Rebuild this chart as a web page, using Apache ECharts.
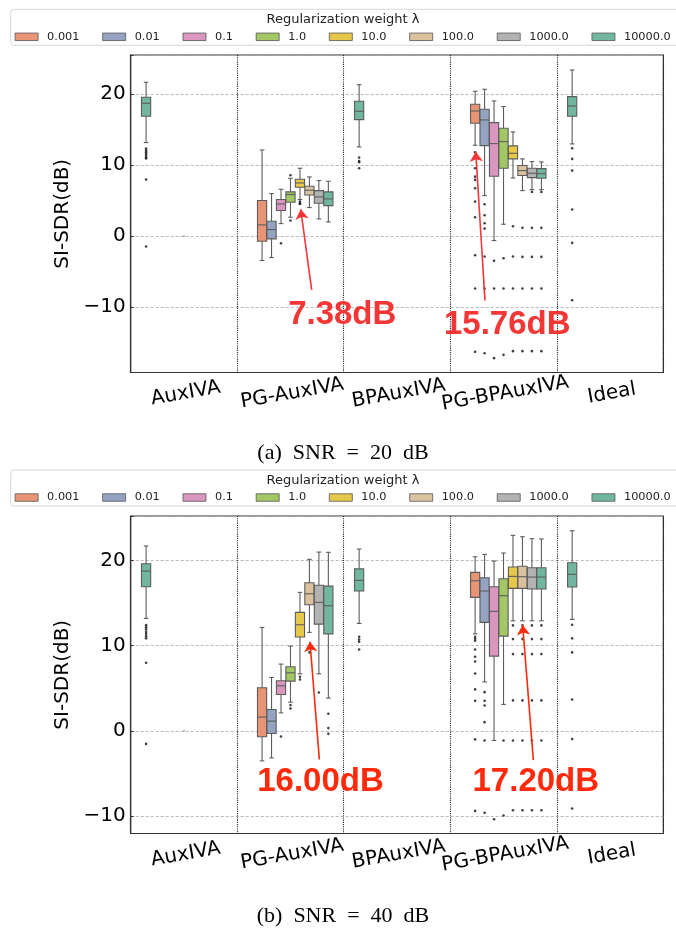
<!DOCTYPE html>
<html>
<head>
<meta charset="utf-8">
<script src="https://cdn.jsdelivr.net/npm/echarts@6/dist/echarts.min.js"></script>
<style>
  html, body { margin: 0; padding: 0; background: #fff; }
  #chart { width: 676px; height: 928px; }
</style>
</head>
<body>
<div id="chart"></div>
<script>
const methods = ['AuxIVA', 'PG-AuxIVA', 'BPAuxIVA', 'PG-BPAuxIVA', 'Ideal'];
const lambdas = ['0.001', '0.01', '0.1', '1.0', '10.0', '100.0', '1000.0', '10000.0'];
const yTicks = [-10, 0, 10, 20];

// box = [lower whisker, Q1, median, Q3, upper whisker]
// (a) SNR = 20 dB
const snr20AuxIVA = [13.15, 16.86, 18.69, 19.53, 21.65];
const snr20AuxIVAOut = [12.3, 12.05, 11.8, 11.55, 11.3, 11.05, 10.9, 7.93, -1.5];
const snr20BPAuxIVA = [12.54, 16.38, 17.56, 18.97, 21.3];
const snr20BPAuxIVAOut = [11.03, 10.56, 10.38, 9.53];
const snr20Ideal = [12.96, 16.86, 18.31, 19.62, 23.38];
const snr20IdealOut = [12.35, 10.85, 9.2, 3.71, -0.99, -9.06];
const snr20PGAuxIVA = [
  [-3.47, -0.75, 1.55, 4.98, 12.11],
  [-3.05, -0.42, 0.89, 2.07, 5.96],
  [1.73, 3.57, 4.5, 5.12, 6.57],
  [2.63, 4.74, 5.83, 6.2, 8.12],
  [5.12, 6.85, 7.46, 7.98, 9.53],
  [3.99, 5.77, 6.43, 7.0, 8.31],
  [2.39, 4.6, 5.49, 6.38, 7.8],
  [1.97, 4.27, 5.21, 6.2, 7.7]
];
const snr20PGAuxIVAOut = [[], [], [-1.03], [8.55, 2.16], [4.83, 4.6, 4.5], [], [], []];
const snr20PGBPAuxIVA = [
  [12.77, 15.87, 17.6, 18.54, 20.38],
  [5.68, 12.72, 16.34, 17.84, 20.66],
  [-0.66, 8.4, 13.0, 15.96, 19.01],
  [1.64, 9.53, 13.29, 15.17, 18.22],
  [8.17, 10.85, 11.64, 12.68, 14.65],
  [6.38, 8.5, 9.2, 9.91, 10.85],
  [6.52, 8.21, 8.83, 9.53, 10.47],
  [6.52, 8.12, 8.77, 9.48, 10.42]
];
const snr20PGBPAuxIVAOut = [
  [11.79, 9.53, 8.35, 7.89, 6.71, 4.83, 2.63, -2.72, -7.42, -16.34],
  [4.46, 2.91, 1.78, 1.03, -2.91, -7.42, -16.53],
  [-3.52, -7.42, -17.23],
  [-3.15, -7.42, -16.76],
  [1.36, -2.91, -7.42, -16.24],
  [1.13, -2.96, -7.42, -16.24],
  [6.2, 1.13, -2.96, -7.42, -16.24],
  [6.2, 1.13, -2.96, -7.42, -16.24]
];

// (b) SNR = 40 dB
const snr40AuxIVA = [13.19, 16.9, 18.74, 19.6, 21.68];
const snr40AuxIVAOut = [12.4, 12.15, 11.9, 11.6, 11.35, 11.1, 10.85, 7.98, -1.53];
const snr40BPAuxIVA = [12.6, 16.4, 17.65, 19.0, 21.33];
const snr40BPAuxIVAOut = [11.03, 10.7, 10.45, 9.55];
const snr40Ideal = [13.07, 16.87, 18.36, 19.72, 23.47];
const snr40IdealOut = [12.44, 10.85, 9.2, 3.68, -0.97, -9.11];
const snr40PGAuxIVA = [
  [-3.52, -0.7, 1.61, 5.05, 12.13],
  [-3.17, -0.31, 1.14, 2.51, 6.27],
  [2.11, 4.27, 5.28, 5.87, 7.83],
  [3.37, 5.83, 6.81, 7.51, 9.94],
  [6.69, 11.0, 12.44, 13.9, 16.24],
  [11.55, 14.79, 16.08, 17.37, 20.12],
  [6.69, 12.52, 15.07, 17.07, 20.97],
  [3.84, 11.38, 14.67, 16.98, 20.94]
];
const snr40PGAuxIVAOut = [[], [], [-0.66], [3.02, 2.63], [6.34, 6.03], [9.98, 9.2], [4.5], [2.0, 0.32, -0.35]];
const snr40PGBPAuxIVA = [
  [11.38, 15.66, 17.61, 18.59, 20.42],
  [5.75, 12.72, 16.4, 17.96, 20.7],
  [-1.13, 8.77, 14.01, 16.9, 19.92],
  [3.1, 11.11, 15.85, 17.84, 20.86],
  [12.91, 16.71, 18.12, 19.21, 22.93],
  [12.91, 16.71, 18.08, 19.3, 22.77],
  [12.91, 16.63, 18.04, 19.13, 22.54],
  [12.91, 16.63, 18.04, 19.13, 22.5]
];
const snr40PGBPAuxIVAOut = [
  [11.03, 10.8, 10.56, 9.55, 8.69, 8.14, 6.73, 4.86, 3.52, -1.0, -9.39],
  [4.54, 3.52, 2.98, 1.02, -1.13, -9.62],
  [-10.36],
  [-1.13, -9.93],
  [12.37, 10.76, 9.0, 3.57, -1.13, -9.31],
  [12.37, 10.76, 9.0, 3.57, -1.13, -9.31],
  [12.37, 10.76, 9.0, 3.57, -1.13, -9.31],
  [12.37, 10.76, 9.0, 3.57, -1.13, -9.31]
];

// seaborn Set2, desaturated (0.75); hue 0 = no lambda, hues 1..8 = lambdas
const hueColors = ['#71b6a1', '#e99575', '#95a3c3', '#db96c0', '#a2c764', '#e5c849', '#dbc29e', '#b3b3b3', '#71b6a1'];
const hueStep = 0.8 / 9;
const boxW = hueStep * 0.97;
const edge = '#5c5c5c';
const font = 'DejaVu Sans';

function hx(g, h) { return g + (h - 4) * hueStep; }

function renderBox(params, api) {
  const x = api.value(0);
  const lo = api.coord([x, api.value(1)]);
  const q1 = api.coord([x, api.value(2)]);
  const md = api.coord([x, api.value(3)]);
  const q3 = api.coord([x, api.value(4)]);
  const hi = api.coord([x, api.value(5)]);
  const w = api.size([boxW, 0])[0];
  const cx = lo[0];
  const ln = { stroke: edge, lineWidth: 1.1 };
  return {
    type: 'group',
    children: [
      { type: 'line', shape: { x1: cx, y1: lo[1], x2: cx, y2: q1[1] }, style: ln },
      { type: 'line', shape: { x1: cx, y1: q3[1], x2: cx, y2: hi[1] }, style: ln },
      { type: 'line', shape: { x1: cx - w / 4, y1: lo[1], x2: cx + w / 4, y2: lo[1] }, style: ln },
      { type: 'line', shape: { x1: cx - w / 4, y1: hi[1], x2: cx + w / 4, y2: hi[1] }, style: ln },
      { type: 'rect', shape: { x: cx - w / 2, y: q3[1], width: w, height: q1[1] - q3[1] },
        style: { fill: api.visual('color'), stroke: edge, lineWidth: 1.1 } },
      { type: 'line', shape: { x1: cx - w / 2, y1: md[1], x2: cx + w / 2, y2: md[1] }, style: ln }
    ]
  };
}

const series = [];
function addPanel(p, base, baseOut, pg, pgOut, pgbp, pgbpOut, notes, red) {
  const baseGroups = [0, 2, 4];
  for (let h = 0; h < 9; h++) {
    const data = [];
    if (h === 0) {
      base.forEach((b, i) => data.push([hx(baseGroups[i], 0)].concat(b)));
    } else {
      data.push([hx(1, h)].concat(pg[h - 1]));
      data.push([hx(3, h)].concat(pgbp[h - 1]));
    }
    series.push({
      type: 'custom', name: h === 0 ? 'none' : lambdas[h - 1],
      xAxisIndex: p * 2 + 1, yAxisIndex: p,
      itemStyle: { color: hueColors[h] },
      encode: { x: 0, y: [1, 2, 3, 4, 5] },
      renderItem: renderBox, silent: true, data: data
    });
  }
  const fl = [];
  baseOut.forEach((arr, i) => arr.forEach(v => fl.push([hx(baseGroups[i], 0), v])));
  pgOut.forEach((arr, k) => arr.forEach(v => fl.push([hx(1, k + 1), v])));
  pgbpOut.forEach((arr, k) => arr.forEach(v => fl.push([hx(3, k + 1), v])));
  series.push({
    type: 'scatter', xAxisIndex: p * 2 + 1, yAxisIndex: p, silent: true,
    symbolSize: 2.6, itemStyle: { color: '#111' }, data: fl
  });
  // tiny mark at 0 in the AuxIVA slot
  series.push({
    type: 'scatter', xAxisIndex: p * 2 + 1, yAxisIndex: p, silent: true,
    symbolSize: 2, itemStyle: { color: '#999' }, data: [[0, 0]]
  });
  series.push({
    type: 'scatter', xAxisIndex: p * 2 + 1, yAxisIndex: p, silent: true,
    symbolSize: 0, itemStyle: { color: red, opacity: 1 },
    label: {
      show: true, position: 'inside', formatter: q => q.value[2], opacity: 1,
      color: red, textBorderWidth: 0, fontSize: 33, fontWeight: 'bold', fontFamily: 'Liberation Sans'
    },
    data: notes.map(n => [n.tx, n.ty, n.text]),
    markLine: {
      silent: true, symbol: ['none', 'arrow'], symbolSize: 10,
      lineStyle: { color: red, width: 1.6, type: 'solid' }, label: { show: false },
      data: notes.map(n => [{ coord: n.from }, { coord: n.to }])
    }
  });
}

addPanel(0,
  [snr20AuxIVA, snr20BPAuxIVA, snr20Ideal], [snr20AuxIVAOut, snr20BPAuxIVAOut, snr20IdealOut],
  snr20PGAuxIVA, snr20PGAuxIVAOut, snr20PGBPAuxIVA, snr20PGBPAuxIVAOut,
  [{ text: '7.38dB', tx: 1.486, ty: -11.13, from: [1.199, -7.6], to: [1.096, 3.76] },
   { text: '15.76dB', tx: 3.035, ty: -12.54, from: [2.826, -9.11], to: [2.739, 11.87] }],
  '#f43636');
addPanel(1,
  [snr40AuxIVA, snr40BPAuxIVA, snr40Ideal], [snr40AuxIVAOut, snr40BPAuxIVAOut, snr40IdealOut],
  snr40PGAuxIVA, snr40PGAuxIVAOut, snr40PGBPAuxIVA, snr40PGBPAuxIVAOut,
  [{ text: '16.00dB', tx: 1.282, ty: -5.96, from: [1.271, -3.36], to: [1.183, 10.45] },
   { text: '17.20dB', tx: 3.303, ty: -5.96, from: [3.28, -3.44], to: [3.18, 12.41] }],
  '#ff2a0c');

const gridTops = [55, 516];
const yRanges = [[-19.25, 25.49], [-12.04, 25.2]];
const legendTops = [9.3, 470];
const captions = ['(a)  SNR  =  20  dB', '(b)  SNR  =  40  dB'];
const captionTops = [442, 905];

const grids = [], xAxes = [], yAxes = [], legends = [], titles = [];
for (let p = 0; p < 2; p++) {
  grids.push({ left: 130.7, width: 532.6, top: gridTops[p], height: 317.5,
    show: true, borderColor: '#333', borderWidth: 1.2 });
  xAxes.push({
    type: 'category', gridIndex: p, data: methods, boundaryGap: true,
    axisLine: { onZero: false, lineStyle: { color: '#333', width: 1.2 } },
    axisTick: { alignWithLabel: true, length: 4, lineStyle: { color: '#333' } },
    axisLabel: { rotate: 10, align: 'center', verticalAlign: 'top', margin: 11,
      fontSize: 20, fontFamily: font, color: '#000', interval: 0 },
    splitLine: { show: true, interval: 0, lineStyle: { type: 'dotted', color: '#222', width: 1.1 } }
  });
  xAxes.push({ type: 'value', gridIndex: p, min: -0.5, max: 4.5, show: false,
    axisLine: { onZero: false } });
  yAxes.push({
    type: 'value', gridIndex: p, min: yRanges[p][0], max: yRanges[p][1],
    name: 'SI-SDR(dB)', nameLocation: 'middle', nameGap: 54,
    nameTextStyle: { fontSize: 20, fontFamily: font, color: '#000' },
    axisLine: { show: true, onZero: false, lineStyle: { color: '#333', width: 1.2 } },
    axisTick: { show: true, inside: true, length: 3, lineStyle: { color: '#333' } },
    axisLabel: { margin: 5, fontSize: 20, fontFamily: font, color: '#000',
      formatter: v => yTicks.includes(v) ? String(v).replace('-', '\u2212') : '' },
    splitLine: { show: true, lineStyle: { type: [3, 2], color: '#aaa', width: 0.8 } }
  });
  legends.push({
    data: lambdas, orient: 'horizontal', left: 10.7, top: legendTops[p], width: 720,
    padding: [22, 9, 3, 4], itemGap: 22.8, itemWidth: 23, itemHeight: 7.5,
    icon: 'rect', selectedMode: false,
    borderColor: '#d6d6d6', borderWidth: 1, borderRadius: 3,
    itemStyle: { borderColor: '#555', borderWidth: 0.8 },
    textStyle: { fontSize: 11.3, fontFamily: font, color: '#222', padding: [0, 0, 0, 4] }
  });
  titles.push({
    text: 'Regularization weight \u03bb', left: 343, textAlign: 'center',
    top: legendTops[p] + 4, padding: 0,
    textStyle: { fontSize: 13, fontFamily: font, fontWeight: 'normal', color: '#222' }
  });
  titles.push({
    text: captions[p], left: 343, textAlign: 'center', top: captionTops[p], padding: 0,
    textStyle: { fontSize: 22, fontFamily: 'Liberation Serif', fontWeight: 'normal', color: '#000' }
  });
}

const myChart = echarts.init(document.getElementById('chart'));
myChart.setOption({
  animation: false,
  backgroundColor: '#fff',
  title: titles,
  legend: legends,
  grid: grids,
  xAxis: xAxes,
  yAxis: yAxes,
  series: series
});
</script>
</body>
</html>
